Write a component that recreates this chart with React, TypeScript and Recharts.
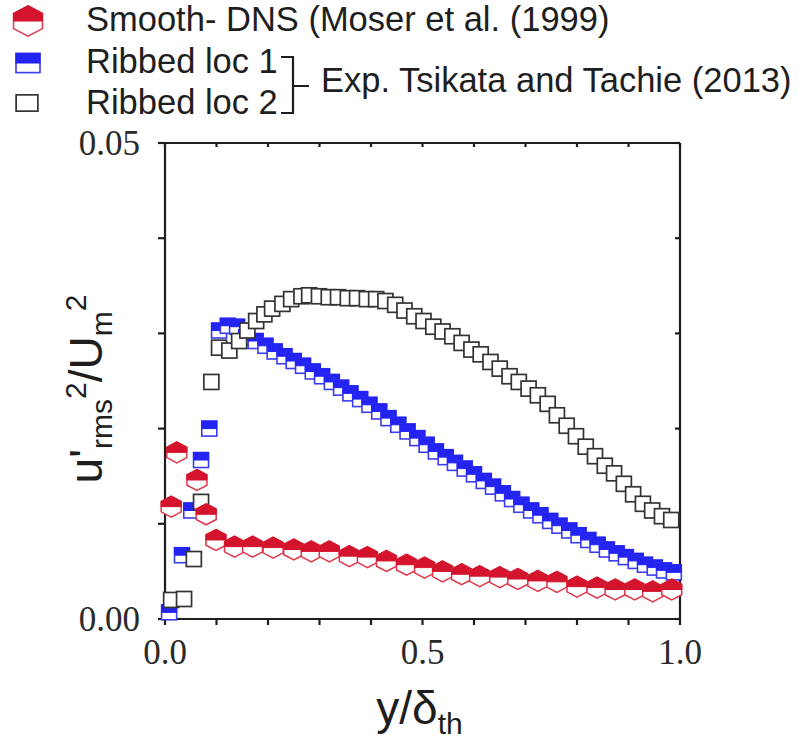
import React from "react"
import { ScatterChart, Scatter, XAxis, YAxis } from "recharts"

// Smooth channel, DNS (Moser et al. 1999)
const smoothX = [0.012, 0.023, 0.062, 0.08, 0.099, 0.135, 0.17, 0.21, 0.25, 0.284, 0.319, 0.358, 0.393, 0.43, 0.469, 0.504, 0.539, 0.576, 0.611, 0.65, 0.685, 0.724, 0.761, 0.8, 0.839, 0.874, 0.912, 0.947, 0.984]
const smoothY = [0.0118, 0.0175, 0.0146, 0.011, 0.0083, 0.0076, 0.0076, 0.0075, 0.0073, 0.0071, 0.0071, 0.0066, 0.0065, 0.0061, 0.0057, 0.0054, 0.005, 0.0047, 0.0045, 0.0044, 0.0042, 0.004, 0.0039, 0.0034, 0.0033, 0.0031, 0.0031, 0.0029, 0.0031]

// Ribbed loc 1 (Tsikata and Tachie 2013)
const loc1X = [0.008, 0.033, 0.051, 0.07, 0.086, 0.105, 0.122, 0.14, 0.158, 0.176, 0.195, 0.213, 0.232, 0.25, 0.268, 0.287, 0.305, 0.324, 0.342, 0.36, 0.379, 0.397, 0.416, 0.434, 0.453, 0.471, 0.49, 0.508, 0.526, 0.545, 0.563, 0.582, 0.6, 0.619, 0.637, 0.656, 0.674, 0.692, 0.711, 0.729, 0.748, 0.766, 0.785, 0.803, 0.822, 0.84, 0.858, 0.877, 0.895, 0.914, 0.932, 0.951, 0.969, 0.988]
const loc1Y = [0.0007, 0.0067, 0.0114, 0.0167, 0.02, 0.0303, 0.0308, 0.0307, 0.0296, 0.0292, 0.0287, 0.0281, 0.0276, 0.0271, 0.0266, 0.026, 0.0255, 0.0249, 0.0243, 0.0237, 0.0231, 0.0225, 0.0218, 0.0211, 0.0204, 0.0197, 0.019, 0.0183, 0.0176, 0.017, 0.0164, 0.0158, 0.0152, 0.0145, 0.0139, 0.0132, 0.0126, 0.012, 0.0114, 0.0109, 0.0103, 0.0098, 0.0093, 0.0088, 0.0083, 0.0078, 0.0073, 0.0069, 0.0065, 0.0061, 0.0057, 0.0054, 0.0051, 0.0049]

// Ribbed loc 2
const loc2X = [0.012, 0.037, 0.056, 0.07, 0.09, 0.105, 0.125, 0.144, 0.16, 0.177, 0.193, 0.208, 0.228, 0.245, 0.265, 0.28, 0.299, 0.318, 0.336, 0.355, 0.373, 0.392, 0.41, 0.428, 0.447, 0.465, 0.484, 0.502, 0.521, 0.539, 0.558, 0.576, 0.595, 0.613, 0.632, 0.65, 0.669, 0.687, 0.706, 0.724, 0.743, 0.761, 0.78, 0.798, 0.817, 0.835, 0.854, 0.872, 0.891, 0.909, 0.928, 0.946, 0.965, 0.983]
const loc2Y = [0.002, 0.0021, 0.0063, 0.0123, 0.0249, 0.0285, 0.0282, 0.0292, 0.0303, 0.0313, 0.032, 0.0326, 0.0331, 0.0336, 0.0339, 0.034, 0.0339, 0.0338, 0.0338, 0.0337, 0.0337, 0.0336, 0.0336, 0.0334, 0.033, 0.0324, 0.0318, 0.0313, 0.0307, 0.0302, 0.0297, 0.029, 0.0283, 0.0278, 0.027, 0.0263, 0.0255, 0.0249, 0.0242, 0.0235, 0.0226, 0.0214, 0.0203, 0.0192, 0.0181, 0.0171, 0.0161, 0.0153, 0.0142, 0.0131, 0.0121, 0.0114, 0.0108, 0.0104]

const xTicks = [0, 0.1, 0.2, 0.3, 0.4, 0.5, 0.6, 0.7, 0.8, 0.9, 1.0]
const yTicks = [0, 0.01, 0.02, 0.03, 0.04, 0.05]
const xLabelled = [0, 0.5, 1.0]
const yLabelled = [0, 0.05]

const seriesNames = ["Smooth- DNS (Moser et al. (1999)", "Ribbed loc 1", "Ribbed loc 2"]
const expNote = "Exp. Tsikata and Tachie (2013)"

const toPoints = (xs: number[], ys: number[]) => xs.map((x, i) => ({ x, y: ys[i] }))

const RED = "#d3142c"
const RED_EDGE = "#e0364a"
const BLUE = "#2323f2"
const BLUE_EDGE = "#3b3bf0"
const INK = "#1e1e1e"

function Hex({ cx, cy, k = 1 }: any) {
  const w = 10 * k
  const h = 10.5 * k
  const full = `${cx},${cy - h} ${cx + w},${cy - h / 2} ${cx + w},${cy + h / 2} ${cx},${cy + h} ${cx - w},${cy + h / 2} ${cx - w},${cy - h / 2}`
  const top = `${cx - w},${cy} ${cx - w},${cy - h / 2} ${cx},${cy - h} ${cx + w},${cy - h / 2} ${cx + w},${cy}`
  return (
    <g>
      <polygon points={full} fill="#fff" stroke={RED_EDGE} strokeWidth={1.5} />
      <polygon points={top} fill={RED} stroke={RED} strokeWidth={1} />
    </g>
  )
}

function HalfSquare({ cx, cy, k = 1 }: any) {
  const sx = 7.5 * k
  const sy = 7.5 * (k > 1 ? k * 0.8 : 1)
  return (
    <g>
      <rect x={cx - sx} y={cy - sy} width={2 * sx} height={2 * sy} fill="#fff" stroke={BLUE_EDGE} strokeWidth={1.6} />
      <rect x={cx - sx} y={cy - sy} width={2 * sx} height={sy} fill={BLUE} stroke={BLUE} strokeWidth={1} />
    </g>
  )
}

function OpenSquare({ cx, cy, k = 1 }: any) {
  const sx = 7.5 * k
  const sy = 7.5 * (k > 1 ? k * 0.75 : 1)
  return <rect x={cx - sx} y={cy - sy} width={2 * sx} height={2 * sy} fill="#fff" stroke="#333" strokeWidth={1.7} />
}

const fmt = (list: number[], digits: number) => (v: number) =>
  list.some((t) => Math.abs(t - v) < 1e-9) ? v.toFixed(digits) : ""

function YTitle({ viewBox }: any) {
  const cx = viewBox.x + 17
  const cy = viewBox.y + viewBox.height / 2 + 8
  return (
    <text
      x={cx}
      y={cy}
      transform={`rotate(-90, ${cx}, ${cy})`}
      textAnchor="middle"
      fontFamily="Liberation Sans, Arial, sans-serif"
      fontSize={46}
      fill={INK}
    >
      <tspan>u'</tspan>
      <tspan fontSize={30} dy={10}>rms</tspan>
      <tspan fontSize={30} dy={-26}>2</tspan>
      <tspan dy={16}>/U</tspan>
      <tspan fontSize={30} dy={10}>m</tspan>
      <tspan fontSize={30} dy={-26}>2</tspan>
    </text>
  )
}

function XTitle({ viewBox }: any) {
  const cx = viewBox.x + viewBox.width / 2 - 3
  const cy = viewBox.y + 105
  return (
    <text x={cx} y={cy} textAnchor="middle" fontFamily="Liberation Sans, Arial, sans-serif" fontSize={46} fill={INK}>
      <tspan>y/δ</tspan>
      <tspan fontSize={30} dy={10}>th</tspan>
    </text>
  )
}

function LegendBlock() {
  const font = "Liberation Sans, Arial, sans-serif"
  return (
    <svg width={798} height={130} style={{ position: "absolute", left: 0, top: 0 }}>
      <Hex cx={28} cy={21} k={1.45} />
      <HalfSquare cx={28} cy={63} k={1.6} />
      <OpenSquare cx={27} cy={103} k={1.45} />
      <g fontFamily={font} fontSize={34.5} fill={INK}>
        <text x={86} y={31}>{seriesNames[0]}</text>
        <text x={86} y={73}>{seriesNames[1]}</text>
        <text x={86} y={114}>{seriesNames[2]}</text>
        <text x={321} y={92}>{expNote}</text>
      </g>
      <path d="M 281 57 L 293 57 L 293 113 L 281 113 M 293 86 L 309 86" fill="none" stroke={INK} strokeWidth={2.2} />
    </svg>
  )
}

export default function App() {
  const axisStroke = { stroke: INK, strokeWidth: 2.2 }
  const tickFont = { fontFamily: "Liberation Serif, Times New Roman, serif", fontSize: 35, fill: "#2a2a2a" }
  return (
    <div style={{ position: "absolute", left: 0, top: 0, width: 798, height: 740, background: "#fff" }}>
      <LegendBlock />
      <ScatterChart width={798} height={740} margin={{ top: 142, right: 117, bottom: 61, left: 85 }}>
        <XAxis
          dataKey="x"
          type="number"
          domain={[0, 1]}
          ticks={xTicks}
          height={60}
          tickSize={6}
          tickMargin={14}
          tickFormatter={fmt(xLabelled, 1)}
          tick={tickFont}
          axisLine={axisStroke}
          tickLine={axisStroke}
          label={<XTitle />}
        />
        <XAxis
          xAxisId="top"
          dataKey="x"
          orientation="top"
          type="number"
          domain={[0, 1]}
          ticks={xTicks}
          height={1}
          tickSize={-4}
          tickFormatter={() => ""}
          axisLine={axisStroke}
          tickLine={axisStroke}
        />
        <YAxis
          dataKey="y"
          type="number"
          domain={[0, 0.05]}
          ticks={yTicks}
          width={80}
          tickSize={7}
          tickMargin={18}
          tickFormatter={fmt(yLabelled, 2)}
          tick={tickFont}
          axisLine={axisStroke}
          tickLine={axisStroke}
          label={<YTitle />}
        />
        <YAxis
          yAxisId="right"
          dataKey="y"
          orientation="right"
          type="number"
          domain={[0, 0.05]}
          ticks={yTicks}
          width={1}
          tickSize={-5}
          tickFormatter={() => ""}
          axisLine={axisStroke}
          tickLine={axisStroke}
        />
        <Scatter name={seriesNames[1]} data={toPoints(loc1X, loc1Y)} shape={HalfSquare} isAnimationActive={false} />
        <Scatter
          name={seriesNames[2]}
          data={toPoints(loc2X, loc2Y)}
          xAxisId="top"
          yAxisId="right"
          shape={OpenSquare}
          isAnimationActive={false}
        />
        <Scatter name={seriesNames[0]} data={toPoints(smoothX, smoothY)} shape={Hex} isAnimationActive={false} />
      </ScatterChart>
    </div>
  )
}
